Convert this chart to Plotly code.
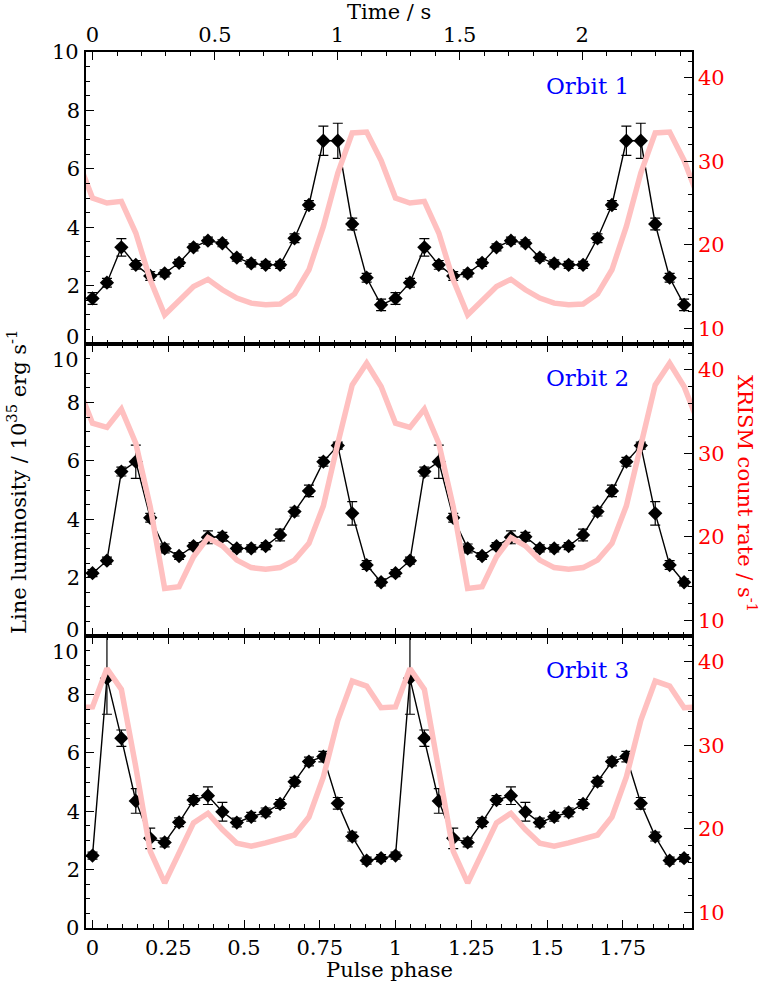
import plotly.graph_objects as go

# ---------------- data ----------------
N_BINS = 21
PERIOD_S = 1.2377  # pulse period, s (Time axis)

# Line luminosity (10^35 erg/s), one pulse cycle (21 bins), per orbit
lum_orbit1 = [1.56, 2.10, 3.31, 2.71, 2.33, 2.42, 2.78, 3.31, 3.54, 3.45, 2.96,
              2.76, 2.71, 2.71, 3.62, 4.76, 6.96, 6.96, 4.11, 2.27, 1.34]
err_orbit1 = [0.20, 0.15, 0.30, 0.15, 0.15, 0.12, 0.12, 0.12, 0.12, 0.12, 0.12,
              0.12, 0.12, 0.12, 0.15, 0.15, 0.50, 0.60, 0.20, 0.15, 0.20]

lum_orbit2 = [2.15, 2.58, 5.63, 5.97, 4.05, 3.00, 2.74, 3.08, 3.38, 3.40, 3.00,
              3.00, 3.08, 3.46, 4.26, 4.97, 5.97, 6.52, 4.20, 2.43, 1.84]
err_orbit2 = [0.12, 0.12, 0.15, 0.57, 0.15, 0.15, 0.12, 0.12, 0.22, 0.15, 0.12,
              0.12, 0.12, 0.20, 0.15, 0.20, 0.15, 0.12, 0.40, 0.15, 0.12]

lum_orbit3 = [2.48, 8.55, 6.50, 4.35, 3.07, 2.93, 3.62, 4.38, 4.53, 3.98, 3.61,
              3.81, 3.96, 4.25, 5.01, 5.70, 5.87, 4.27, 3.13, 2.31, 2.39]
err_orbit3_plus = [0.12, 2.00, 0.28, 0.42, 0.35, 0.15, 0.15, 0.15, 0.30, 0.32, 0.15,
                   0.15, 0.15, 0.15, 0.15, 0.15, 0.18, 0.20, 0.15, 0.12, 0.12]
err_orbit3_minus = [0.12, 1.23, 0.28, 0.42, 0.35, 0.15, 0.15, 0.15, 0.30, 0.32, 0.15,
                    0.15, 0.15, 0.15, 0.15, 0.15, 0.18, 0.20, 0.15, 0.12, 0.12]

# XRISM count rate (1/s), one pulse cycle, per orbit
rate_orbit1 = [25.6, 25.0, 25.2, 21.4, 15.8, 11.6, 13.2, 15.0, 15.85, 14.6, 13.6,
               13.0, 12.8, 12.9, 14.1, 17.0, 22.2, 28.6, 33.4, 33.5, 30.1]
rate_orbit2 = [33.6, 33.1, 35.3, 31.2, 23.6, 13.8, 14.0, 17.6, 19.9, 18.9, 17.2,
               16.3, 16.1, 16.3, 17.2, 19.2, 23.7, 31.2, 38.2, 40.8, 38.0]
rate_orbit3 = [34.6, 39.2, 36.7, 27.4, 17.3, 13.5, 17.1, 20.7, 21.85, 19.9, 18.25,
               17.9, 18.3, 18.85, 19.25, 21.4, 26.2, 33.0, 37.7, 37.1, 34.5]

orbit_names = ["Orbit 1", "Orbit 2", "Orbit 3"]

phase_ticks = [0, 0.25, 0.5, 0.75, 1, 1.25, 1.5, 1.75]
phase_ticktext = ["0", "0.25", "0.5", "0.75", "1", "1.25", "1.5", "1.75"]
time_ticks = [0, 0.5, 1, 1.5, 2]
time_ticktext = ["0", "0.5", "1", "1.5", "2"]
lum_ticks = [2, 4, 6, 8]
rate_ticks = [10, 20, 30, 40]

# ---------------- figure ----------------
FONT = "'DejaVu Serif', 'Liberation Serif', serif"
FS = 21
RED_LINE = "#ffc0c0"
PHASE_RANGE = [-0.0215, 1.9785]
LUM_RANGE = [0, 10]
RATE_RANGE = [8.1, 43.1]

phases = [k / N_BINS for k in range(2 * N_BINS)]
phases_red = [-1 / N_BINS] + phases + [2.0]

panels = [
    (lum_orbit1, err_orbit1, err_orbit1, rate_orbit1, "x3", "y5", "y6", [2 / 3, 1.0]),
    (lum_orbit2, err_orbit2, err_orbit2, rate_orbit2, "x2", "y3", "y4", [1 / 3, 2 / 3]),
    (lum_orbit3, err_orbit3_plus, err_orbit3_minus, rate_orbit3, "x", "y", "y2", [0.0, 1 / 3]),
]

fig = go.Figure()

for lum, ep, em, rate, xa, yl, yr, dom in panels:
    red_vals = [rate[-1]] + rate + rate + [rate[0]]
    fig.add_trace(go.Scatter(
        x=phases_red, y=red_vals, xaxis=xa, yaxis=yr, mode="lines",
        line=dict(color=RED_LINE, width=5.5), showlegend=False, hoverinfo="skip"))
for lum, ep, em, rate, xa, yl, yr, dom in panels:
    fig.add_trace(go.Scatter(
        x=phases, y=lum + lum, xaxis=xa, yaxis=yl, mode="lines+markers",
        line=dict(color="black", width=1.4),
        marker=dict(symbol="diamond", size=11, color="black"),
        error_y=dict(type="data", symmetric=False, array=ep + ep, arrayminus=em + em,
                     color="black", thickness=1.2, width=5),
        showlegend=False))

# invisible trace that registers the top time axis
fig.add_trace(go.Scatter(x=[p * PERIOD_S for p in phases[:1]], y=[None],
                         xaxis="x4", yaxis="y5", mode="markers",
                         marker=dict(opacity=0), showlegend=False, hoverinfo="skip"))

axis_common = dict(showline=True, linecolor="black", linewidth=1.5, ticks="inside",
                   tickcolor="black", tickwidth=1.2, showgrid=False, zeroline=False,
                   tickfont=dict(family=FONT, size=FS, color="black"))
minor_common = dict(ticklen=4, ticks="inside", tickcolor="black", tickwidth=1.2)

layout = dict(
    width=761, height=987,
    margin=dict(l=86, r=69, t=52, b=59),
    paper_bgcolor="white", plot_bgcolor="white",
    font=dict(family=FONT, size=FS, color="black"),
    showlegend=False,
)

layout["xaxis"] = dict(axis_common, domain=[0, 1], anchor="y", range=PHASE_RANGE,
                       tickvals=phase_ticks, ticktext=phase_ticktext, ticklen=8,
                       mirror="ticks", minor=dict(minor_common, dtick=0.05, tick0=0))
layout["xaxis2"] = dict(axis_common, domain=[0, 1], anchor="y3", matches="x",
                        range=PHASE_RANGE, tickvals=phase_ticks, showticklabels=False,
                        ticklen=8, mirror="ticks",
                        minor=dict(minor_common, dtick=0.05, tick0=0))
layout["xaxis3"] = dict(axis_common, domain=[0, 1], anchor="y5", matches="x",
                        range=PHASE_RANGE, tickvals=phase_ticks, showticklabels=False,
                        ticklen=8, mirror=False,
                        minor=dict(minor_common, dtick=0.05, tick0=0))
layout["xaxis4"] = dict(axis_common, overlaying="x3", anchor="y5", side="top",
                        range=[PHASE_RANGE[0] * PERIOD_S, PHASE_RANGE[1] * PERIOD_S],
                        tickvals=time_ticks, ticktext=time_ticktext, ticklen=8,
                        minor=dict(minor_common, dtick=0.1, tick0=0))

for (lum, ep, em, rate, xa, yl, yr, dom) in panels:
    lname = "yaxis" + ("" if yl == "y" else yl[1:])
    rname = "yaxis" + yr[1:]
    layout[lname] = dict(axis_common, domain=dom, anchor=xa, range=LUM_RANGE,
                         tickvals=lum_ticks, ticklen=8,
                         minor=dict(minor_common, dtick=0.5, tick0=0))
    layout[rname] = dict(axis_common, domain=dom, anchor=xa, overlaying=yl, side="right",
                         range=RATE_RANGE, tickvals=rate_ticks, ticklen=8,
                         tickfont=dict(family=FONT, size=FS, color="red"),
                         minor=dict(minor_common, dtick=2, tick0=0))

annotations = []
end_labels = [("y5", 10, 0), ("y5", 0, 7), ("y3", 10, -16), ("y3", 0, 6),
              ("y", 10, -16), ("y", 0, 0)]
for yref, val, shift in end_labels:
    annotations.append(dict(xref="paper", x=0, yref=yref, y=val, text=str(val),
                            showarrow=False, xanchor="right", yanchor="middle",
                            xshift=-5, yshift=shift,
                            font=dict(family=FONT, size=FS, color="black")))
for name, (lum, ep, em, rate, xa, yl, yr, dom) in zip(orbit_names, panels):
    annotations.append(dict(xref=xa, yref=yl, x=1.632, y=8.84, text=name,
                            showarrow=False, xanchor="center", yanchor="middle",
                            font=dict(family=FONT, size=23, color="blue")))
annotations += [
    dict(xref="paper", yref="paper", x=0.5, y=1, yshift=40, text="Time / s",
         showarrow=False, xanchor="center", yanchor="middle",
         font=dict(family=FONT, size=FS, color="black")),
    dict(xref="paper", yref="paper", x=0.5, y=0, yshift=-42, text="Pulse phase",
         showarrow=False, xanchor="center", yanchor="middle",
         font=dict(family=FONT, size=FS, color="black")),
    dict(xref="paper", yref="paper", x=0, xshift=-69, y=0.5, yshift=8,
         text="Line luminosity / 10<sup>35</sup> erg s<sup>-1</sup>", textangle=-90,
         showarrow=False, xanchor="center", yanchor="middle",
         font=dict(family=FONT, size=FS, color="black")),
    dict(xref="paper", yref="paper", x=1, xshift=55, y=0.5, yshift=-3,
         text="XRISM count rate / s<sup>-1</sup>", textangle=90,
         showarrow=False, xanchor="center", yanchor="middle",
         font=dict(family=FONT, size=FS, color="red")),
]
layout["annotations"] = annotations

fig.update_layout(layout)
fig.write_html("out.html")
